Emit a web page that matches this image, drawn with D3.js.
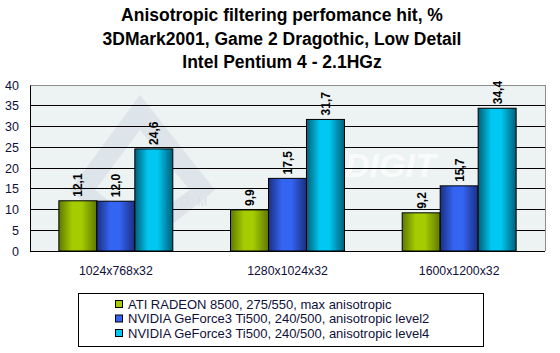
<!DOCTYPE html>
<html>
<head>
<meta charset="utf-8">
<script src="https://cdn.jsdelivr.net/npm/d3@7"></script>
<style>
  body { margin: 0; background: #fff; }
  text { font-family: Arial, "Liberation Sans", sans-serif; }
</style>
</head>
<body>
<div id="chart"></div>
<script>
// chart data
const titleLines = ['Anisotropic filtering perfomance hit, %', '3DMark2001, Game 2 Dragothic, Low Detail', 'Intel Pentium 4 - 2.1HGz'];
const resolutions = ['1024x768x32', '1280x1024x32', '1600x1200x32'];
const seriesNames = [
  'ATI RADEON 8500, 275/550, max anisotropic',
  'NVIDIA GeForce3 Ti500, 240/500, anisotropic level2',
  'NVIDIA GeForce3 Ti500, 240/500, anisotropic level4'
];
const atiMax = [12.1, 9.9, 9.2];
const nvLevel2 = [12.0, 17.5, 15.7];
const nvLevel4 = [24.6, 31.7, 34.4];
const yTicks = [0, 5, 10, 15, 20, 25, 30, 35, 40];

const seriesValues = [atiMax, nvLevel2, nvLevel4];
const palette = [
  {edge: '#5f7800', mid: '#a4cc00', id: 'gGreen'},
  {edge: '#1a2f80', mid: '#3464f2', id: 'gBlue'},
  {edge: '#005f78', mid: '#00c8f2', id: 'gCyan'}
];

const W = 560, H = 353;
const plot = {left: 30, right: 545, top: 85, bottom: 251};

const svg = d3.select('#chart').append('svg')
  .attr('width', W).attr('height', H);

const defs = svg.append('defs');
palette.forEach(p => {
  const g = defs.append('linearGradient').attr('id', p.id)
    .attr('x1', '0%').attr('x2', '100%').attr('y1', '0%').attr('y2', '0%');
  g.append('stop').attr('offset', '0%').attr('stop-color', p.edge);
  g.append('stop').attr('offset', '35%').attr('stop-color', p.mid);
  g.append('stop').attr('offset', '60%').attr('stop-color', p.mid);
  g.append('stop').attr('offset', '100%').attr('stop-color', p.edge);
});

// title
svg.append('g').selectAll('text')
  .data(titleLines)
  .join('text')
  .attr('x', 282)
  .attr('y', (d, i) => 21 + i * 23.5)
  .attr('text-anchor', 'middle')
  .attr('font-size', 17.5)
  .attr('font-weight', 'bold')
  .text(d => d);

const x0 = d3.scaleBand().domain(resolutions).range([plot.left, plot.right]);
const x1 = d3.scaleBand().domain(d3.range(3)).range([0, x0.bandwidth()]).paddingOuter(0.76);
const y = d3.scaleLinear().domain([0, 40]).range([plot.bottom, plot.top]);

// plot background
svg.append('rect')
  .attr('x', plot.left).attr('y', plot.top)
  .attr('width', plot.right - plot.left).attr('height', plot.bottom - plot.top)
  .attr('fill', '#edf3f3');

// faint watermark
const wm = svg.append('g').attr('opacity', 0.09);
wm.append('path')
  .attr('d', 'M70,190 L140,95 L215,190 L140,250 Z')
  .attr('fill', '#4a5a9a');
wm.append('path')
  .attr('d', 'M95,190 L140,130 L190,190 L140,225 Z')
  .attr('fill', '#edf3f3');
wm.append('text')
  .attr('x', 180).attr('y', 206)
  .attr('font-size', 12).attr('letter-spacing', 8)
  .attr('fill', '#202040')
  .text('OM');
svg.append('text')
  .attr('x', 345).attr('y', 177)
  .attr('font-size', 34).attr('font-weight', 'bold').attr('font-style', 'italic')
  .attr('fill', '#ffffff').attr('opacity', 0.7)
  .text('DIGIT');

// gridlines
svg.append('g').selectAll('line')
  .data(yTicks.filter(d => d > 0 && d < 40))
  .join('line')
  .attr('x1', plot.left).attr('x2', plot.right)
  .attr('y1', d => y(d)).attr('y2', d => y(d))
  .attr('stroke', '#000').attr('stroke-width', 1)
  .attr('shape-rendering', 'crispEdges');

// frame: top/right gray, left/bottom black
svg.append('path')
  .attr('d', `M${plot.left},${plot.top}H${plot.right}V${plot.bottom}`)
  .attr('fill', 'none').attr('stroke', '#8c8c8c')
  .attr('shape-rendering', 'crispEdges');

// y axis
const yAxis = svg.append('g')
  .attr('transform', `translate(${plot.left},0)`)
  .call(d3.axisLeft(y).tickValues(yTicks).tickSize(0).tickPadding(11));
yAxis.select('.domain').attr('stroke', '#000');
yAxis.selectAll('text').attr('font-size', 12.5).attr('fill', '#10103a')
  .attr('font-family', 'Arial, "Liberation Sans", sans-serif');

// bars
const groups = svg.append('g').selectAll('g')
  .data(resolutions)
  .join('g')
  .attr('transform', d => `translate(${x0(d)},0)`);

groups.selectAll('rect')
  .data((d, gi) => seriesValues.map((s, si) => ({si, v: s[gi]})))
  .join('rect')
  .attr('x', d => x1(d.si))
  .attr('y', d => y(d.v))
  .attr('width', x1.bandwidth())
  .attr('height', d => y(0) - y(d.v))
  .attr('fill', d => `url(#${palette[d.si].id})`)
  .attr('stroke', '#000').attr('stroke-width', 1);

groups.selectAll('text.val')
  .data((d, gi) => seriesValues.map((s, si) => ({si, v: s[gi]})))
  .join('text')
  .attr('class', 'val')
  .attr('transform', d => `translate(${x1(d.si) + x1.bandwidth() / 2 + 4.5},${y(d.v) - 4}) rotate(-90)`)
  .attr('font-size', 12).attr('font-weight', 'bold')
  .text(d => d.v.toFixed(1).replace('.', ','));

// x axis
svg.append('line')
  .attr('x1', plot.left).attr('x2', plot.right)
  .attr('y1', plot.bottom).attr('y2', plot.bottom)
  .attr('stroke', '#000').attr('shape-rendering', 'crispEdges');

svg.append('g').selectAll('text')
  .data(resolutions)
  .join('text')
  .attr('x', d => x0(d) + x0.bandwidth() / 2)
  .attr('y', 275)
  .attr('text-anchor', 'middle')
  .attr('font-size', 12.3).attr('fill', '#10103a')
  .text(d => d);

// legend
const legend = svg.append('g');
legend.append('rect')
  .attr('x', 78.5).attr('y', 293.5).attr('width', 405).attr('height', 53)
  .attr('fill', '#fff').attr('stroke', '#000');

const rows = legend.selectAll('g')
  .data(seriesNames)
  .join('g')
  .attr('transform', (d, i) => `translate(115,${304 + i * 14.5})`);
rows.append('rect')
  .attr('x', 0.5).attr('y', -3.5).attr('width', 7).attr('height', 7)
  .attr('fill', (d, i) => palette[i].mid).attr('stroke', '#000');
rows.append('text')
  .attr('x', 13).attr('y', 4.5)
  .attr('font-size', 13).attr('fill', '#10103a')
  .text(d => d);
</script>
</body>
</html>
